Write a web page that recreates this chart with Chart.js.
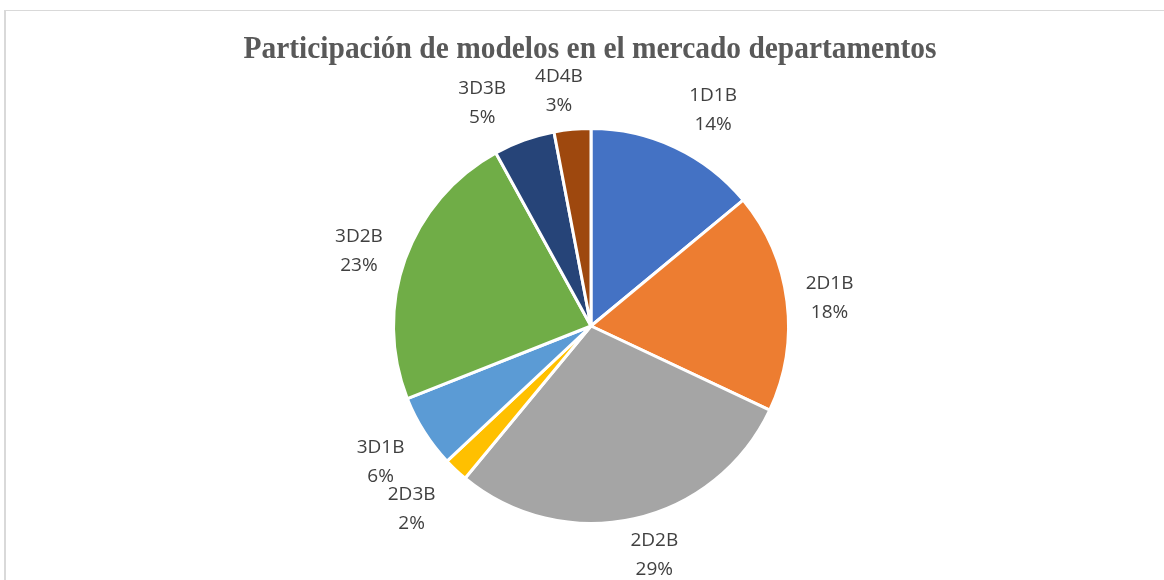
<!DOCTYPE html>
<html lang="es">
<head>
<meta charset="utf-8">
<title>Participación de modelos en el mercado departamentos</title>
<script src="https://cdn.jsdelivr.net/npm/chart.js@4.4.1/dist/chart.umd.min.js"></script>
<style>
    html, body {
        margin: 0;
        padding: 0;
        background: #ffffff;
        overflow: hidden;
    }
    #wrap {
        position: relative;
        width: 1164px;
        height: 580px;
    }
    #frame {
        position: absolute;
        left: 4px;
        top: 10px;
        width: 1200px;
        height: 620px;
        border-left: 2px solid #d9d9d9;
        border-top: 1px solid #d9d9d9;
    }
    #pieChart {
        position: absolute;
        left: 0;
        top: 0;
    }
</style>
</head>
<body>
<div id="wrap">
    <div id="frame"></div>
    <canvas id="pieChart" width="1164" height="580"></canvas>
</div>
<script>
// Modelos de departamento y su participación (%)
const modelos = ['1D1B', '2D1B', '2D2B', '2D3B', '3D1B', '3D2B', '3D3B', '4D4B'];
const participacion = [14, 18, 29, 2, 6, 23, 5, 3];
const colores = ['#4472C4', '#ED7D31', '#A5A5A5', '#FFC000', '#5B9BD5', '#70AD47', '#264478', '#9E480E'];
const titulo = 'Participación de modelos en el mercado departamentos';

// Title drawn by hand: condensed bold serif, like the office export
const titlePlugin = {
    id: 'condensedTitle',
    afterDraw(chart, args, opts) {
        const ctx = chart.ctx;
        ctx.save();
        ctx.font = 'bold 31px "Liberation Serif", "Times New Roman", serif';
        ctx.fillStyle = '#595959';
        ctx.textBaseline = 'alphabetic';
        ctx.textAlign = 'center';
        const w = ctx.measureText(opts.text).width;
        const sx = opts.width / w;
        ctx.translate(opts.x, opts.y);
        ctx.scale(sx, 1);
        ctx.fillText(opts.text, 0, 0);
        ctx.restore();
    }
};

// Category + percent labels outside each slice
const outsideLabels = {
    id: 'outsideLabels',
    afterDatasetsDraw(chart, args, opts) {
        const ctx = chart.ctx;
        const meta = chart.getDatasetMeta(0);
        const data = chart.data.datasets[0].data;
        const total = data.reduce((a, b) => a + b, 0);
        ctx.save();
        ctx.font = '19px "Open Sans", sans-serif';
        ctx.fillStyle = '#404040';
        ctx.textAlign = 'center';
        ctx.textBaseline = 'middle';
        meta.data.forEach((arc, i) => {
            const p = arc.getProps(['x', 'y', 'startAngle', 'endAngle', 'outerRadius'], true);
            const mid = (p.startAngle + p.endAngle) / 2;
            const r = p.outerRadius + opts.distance;
            const shift = opts.shift[i] || [0, 0];
            const cx = p.x + Math.cos(mid) * r + shift[0];
            const cy = p.y + Math.sin(mid) * r + shift[1];
            const pct = Math.round(data[i] / total * 100) + '%';
            ctx.fillText(chart.data.labels[i], cx, cy - opts.lineGap / 2);
            ctx.fillText(pct, cx, cy + opts.lineGap / 2);
        });
        ctx.restore();
    }
};

const ctx = document.getElementById('pieChart').getContext('2d');
const chart = new Chart(ctx, {
    type: 'pie',
    data: {
        labels: modelos,
        datasets: [{
            data: participacion,
            backgroundColor: colores,
            borderColor: '#ffffff',
            borderWidth: 3
        }]
    },
    options: {
        responsive: false,
        animation: false,
        layout: {
            padding: { top: 127, bottom: 55, left: 392, right: 374 }
        },
        plugins: {
            legend: { display: false },
            title: { display: false },
            tooltip: { enabled: false },
            condensedTitle: {
                text: titulo,
                x: 590,
                y: 58,
                width: 693
            },
            outsideLabels: {
                distance: 47,
                lineGap: 29,
                shift: [[18, 5], [-4, 3], [10, -10], [-12, 5], [-4, 5], [-2, 8], [-26, 7], [-9, 9]]
            }
        }
    },
    plugins: [titlePlugin, outsideLabels]
});
</script>
</body>
</html>
